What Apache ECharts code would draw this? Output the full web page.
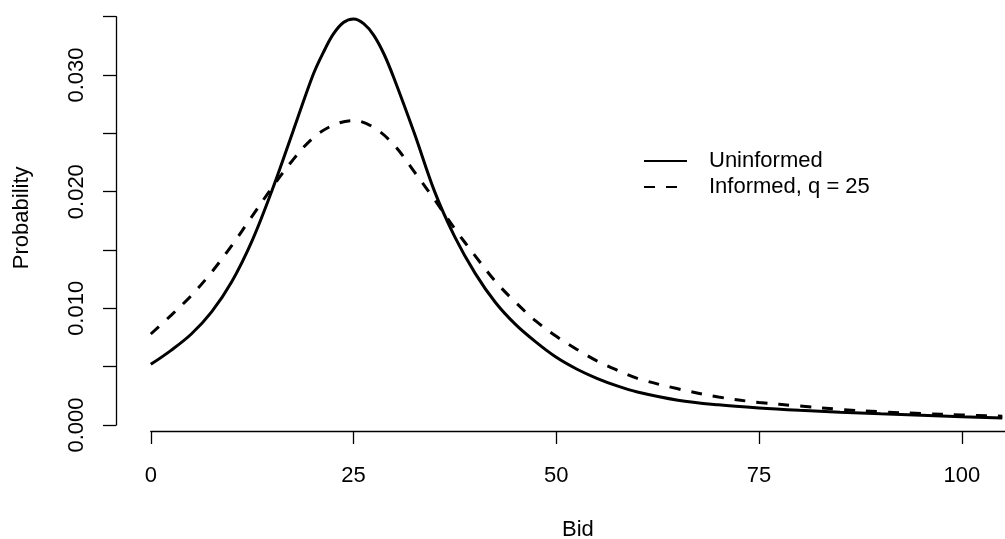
<!DOCTYPE html>
<html>
<head>
<meta charset="utf-8">
<script src="https://cdn.jsdelivr.net/npm/echarts@6/dist/echarts.min.js"></script>
<style>
html,body{margin:0;padding:0;background:#fff;}
#c{width:1005px;height:539px;}
</style>
</head>
<body>
<div id="c"></div>
<script>
// ---- data ----
const bidsU = [0, 2.5, 5, 7.5, 10, 12.5, 15, 17.5, 20, 21.25, 22.5, 23.75, 25, 26.25, 27.5, 28.75, 30, 32.5, 35, 37.5, 40, 42.5, 45, 47.5, 50, 52.5, 55, 57.5, 60, 65, 70, 75, 80, 85, 90, 95, 100, 105];
const uninformed = [0.0052, 0.0064, 0.0078, 0.0097, 0.0123, 0.0158, 0.0202, 0.0251, 0.0300, 0.0319, 0.0335, 0.0345, 0.0348, 0.0344, 0.0334, 0.0318, 0.0297, 0.0250, 0.0200, 0.0161, 0.0130, 0.0105, 0.0086, 0.0071, 0.0058, 0.0048, 0.0040, 0.00335, 0.00283, 0.00213, 0.00173, 0.00146, 0.00126, 0.0011, 0.00096, 0.00083, 0.00071, 0.0006];
const bidsI = [0, 2.5, 5, 7.5, 10, 12.5, 15, 17.5, 20, 22.5, 25, 27.5, 30, 32.5, 35, 37.5, 40, 42.5, 45, 47.5, 50, 52.5, 55, 57.5, 60, 65, 70, 75, 80, 85, 90, 95, 100, 105];
const informed = [0.0078, 0.0094, 0.0111, 0.0131, 0.0154, 0.0179, 0.0204, 0.0227, 0.0246, 0.0257, 0.0261, 0.0255, 0.0240, 0.0217, 0.0193, 0.0168, 0.0145, 0.0123, 0.0105, 0.0089, 0.0076, 0.0065, 0.0055, 0.0047, 0.0040, 0.0031, 0.0024, 0.00193, 0.00163, 0.00134, 0.00113, 0.00098, 0.00086, 0.00075];
const seriesNames = ['Uninformed', 'Informed, q = 25'];
const yTickLabels = ['0.000', '0.010', '0.020', '0.030'];
const xTitle = 'Bid';
const yTitle = 'Probability';

// ---- chart ----
const FONT = '"Liberation Sans", Arial, Helvetica, sans-serif';
const chart = echarts.init(document.getElementById('c'), null, {renderer: 'canvas'});
const axisLineStyle = {color: '#000', width: 1.3};
const textBase = {fontFamily: FONT, fontSize: 22, color: '#000'};

const option = {
  animation: false,
  backgroundColor: '#fff',
  textStyle: {fontFamily: FONT},
  grid: [
    {left: 116, right: 0, top: 16.67, bottom: 114},
    {left: 150.8, right: 0, top: 430, bottom: 105}
  ],
  xAxis: [
    {gridIndex: 0, type: 'value', min: -4.29, max: 105.33, show: false},
    {
      gridIndex: 1, type: 'value', min: 0, max: 105.33, interval: 25, position: 'bottom',
      axisLine: {show: true, onZero: false, lineStyle: axisLineStyle},
      axisTick: {show: true, length: 13, lineStyle: axisLineStyle},
      axisLabel: Object.assign({margin: 34, showMaxLabel: false}, textBase),
      splitLine: {show: false},
      name: xTitle, nameLocation: 'middle', nameGap: 88,
      nameTextStyle: Object.assign({}, textBase)
    }
  ],
  yAxis: [
    {
      gridIndex: 0, type: 'value', min: 0, max: 0.035, interval: 0.005, position: 'left',
      axisLine: {show: true, onZero: false, lineStyle: axisLineStyle},
      axisTick: {show: true, length: 13, lineStyle: axisLineStyle},
      axisLabel: Object.assign({
        margin: 28, rotate: 90, showMinLabel: true, showMaxLabel: true,
        formatter: function (v) {
          for (const s of yTickLabels) {
            if (Math.abs(parseFloat(s) - v) < 1e-9) return s;
          }
          return '';
        }
      }, textBase),
      splitLine: {show: false},
      name: yTitle, nameLocation: 'middle', nameGap: 83, nameRotate: 90,
      nameTextStyle: Object.assign({padding: [0, 0, 0, 6]}, textBase)
    },
    {gridIndex: 1, type: 'value', min: 0, max: 1, show: false}
  ],
  legend: {
    orient: 'vertical', left: 643, top: 150, padding: 0,
    itemGap: 4, itemWidth: 43, itemHeight: 14,
    itemStyle: {opacity: 0},
    textStyle: Object.assign({padding: [3, 0, 0, 17]}, textBase),
    data: seriesNames
  },
  series: [
    {
      type: 'line', name: seriesNames[0], xAxisIndex: 0, yAxisIndex: 0,
      data: bidsU.map((b, i) => [b, uninformed[i]]),
      symbol: 'none', showSymbol: false, smooth: 0.35,
      lineStyle: {color: '#000', width: 3},
      itemStyle: {color: '#000'}
    },
    {
      type: 'line', name: seriesNames[1], xAxisIndex: 0, yAxisIndex: 0,
      data: bidsI.map((b, i) => [b, informed[i]]),
      symbol: 'none', showSymbol: false, smooth: 0.35,
      lineStyle: {color: '#000', width: 3, type: [11, 11], cap: 'butt'},
      itemStyle: {color: '#000'}
    }
  ]
};
chart.setOption(option);
</script>
</body>
</html>
